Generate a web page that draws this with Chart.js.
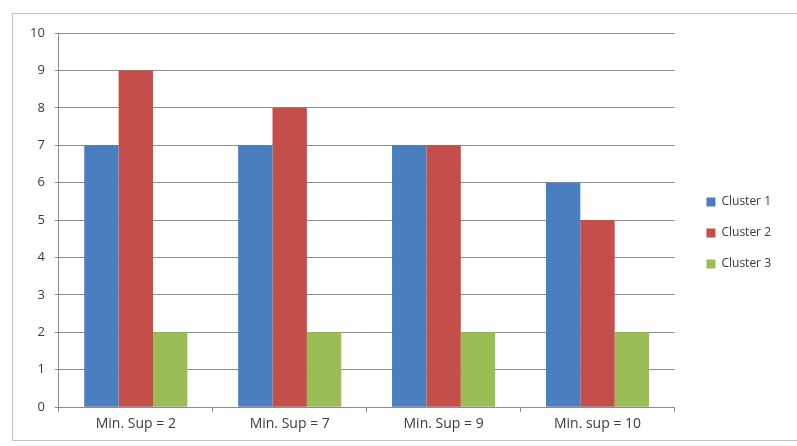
<!DOCTYPE html>
<html>
<head>
<meta charset="utf-8">
<script src="https://cdn.jsdelivr.net/npm/chart.js@4"></script>
<style>
  html, body { margin: 0; padding: 0; background: #fff; }
  #wrap { position: relative; width: 797px; height: 446px; overflow: hidden; }
  #frame { position: absolute; left: 12px; top: 13px; width: 800px; height: 426px; border: 1px solid #c4c4c4; }
  canvas { position: absolute; left: 0; top: 0; }
</style>
</head>
<body>
<div id="wrap">
  <div id="frame"></div>
  <canvas id="chart" width="797" height="446"></canvas>
</div>
<script>
// valores
const categories = ['Min. Sup = 2', 'Min. Sup = 7', 'Min. Sup = 9', 'Min. sup = 10'];
const cluster1 = [7, 7, 7, 6];
const cluster2 = [9, 8, 7, 5];
const cluster3 = [2, 2, 2, 2];
const yTicks = [0, 1, 2, 3, 4, 5, 6, 7, 8, 9, 10];

const fontFamily = 'Open Sans, DejaVu Sans, sans-serif';
const legendGap = 13;  // espacio extra entre el área y la leyenda
const legendLift = 1;  // subir un poco la leyenda

// plugin: separa la leyenda del área del gráfico
const legendGapPlugin = {
    id: 'legendGap',
    beforeLayout(chart) {
        const legend = chart.legend;
        if (legend && !legend._gapPatched) {
            const origFit = legend.fit;
            legend.fit = function () {
                origFit.call(this);
                this.width += legendGap;
            };
            legend._gapPatched = true;
        }
    },
    afterLayout(chart) {
        const legend = chart.legend;
        if (legend) {
            legend.left += legendGap;
            legend.right += legendGap;
            legend.top -= legendLift;
            legend.bottom -= legendLift;
        }
    }
};

new Chart(document.getElementById('chart'), {
    type: 'bar',
    data: {
        labels: categories,
        datasets: [
            { label: 'Cluster 1', data: cluster1, backgroundColor: '#4a7ebf' },
            { label: 'Cluster 2', data: cluster2, backgroundColor: '#c44e4a' },
            { label: 'Cluster 3', data: cluster3, backgroundColor: '#9bbd56' }
        ]
    },
    plugins: [legendGapPlugin],
    options: {
        responsive: false,
        animation: false,
        layout: { padding: { left: 20, top: 33, right: 16, bottom: 11 } },
        datasets: {
            bar: { categoryPercentage: 0.67, barPercentage: 1.0 }
        },
        plugins: {
            tooltip: { enabled: false },
            legend: {
                position: 'right',
                labels: {
                    boxWidth: 9,
                    boxHeight: 9,
                    padding: 19,
                    color: '#3a3a3a',
                    font: { family: fontFamily, size: 12 }
                }
            }
        },
        scales: {
            x: {
                grid: {
                    offset: true,
                    drawOnChartArea: false,
                    drawTicks: true,
                    tickLength: 5,
                    color: '#8c8c8c'
                },
                border: { color: '#8c8c8c' },
                ticks: { color: '#3a3a3a', font: { family: fontFamily, size: 14 }, padding: 3 }
            },
            y: {
                min: 0,
                max: 10,
                afterBuildTicks: axis => { axis.ticks = yTicks.map(v => ({ value: v })); },
                grid: { color: '#8c8c8c', tickLength: 4 },
                border: { color: '#8c8c8c' },
                ticks: { color: '#3a3a3a', font: { family: fontFamily, size: 13 }, padding: 10 }
            }
        }
    }
});
</script>
</body>
</html>
